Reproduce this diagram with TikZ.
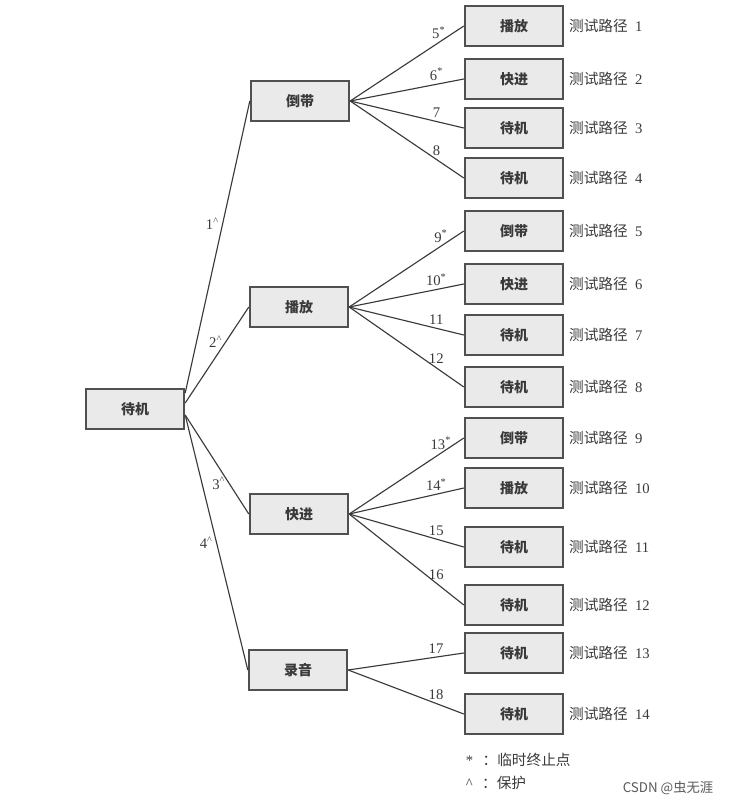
\documentclass[tikz,border=0pt]{standalone}
\usepackage{fontspec}
\setmainfont{Liberation Serif}
\newfontfamily\cjk{Noto Sans CJK SC}
\definecolor{boxfill}{HTML}{EAEAEA}
\definecolor{boxline}{HTML}{505050}
\definecolor{ink}{HTML}{3A3A3A}
\newcommand{\lujing}[1]{{\cjk 测试路径}\enspace #1}

\begin{document}
\begin{tikzpicture}[x=0.75pt,y=-0.75pt,
    box/.style={draw=boxline,fill=boxfill,line width=1.3pt,minimum width=74pt,minimum height=30pt,inner sep=0pt,
        font=\fontsize{10.5}{12}\selectfont\cjk\bfseries,text=ink,label distance=0.5pt},
    plab/.style={font=\fontsize{11}{13}\selectfont\rmfamily\mdseries,text=ink,inner sep=3.5pt},
    conn/.style={draw=ink,line width=0.85pt},
    num/.style={font=\fontsize{11}{13}\selectfont,text=ink,inner sep=2.5pt}]
    \useasboundingbox (0,0) rectangle (744,804);
    % root and first level
    \node[box] (dj) at (135,409) {待机};
    \node[box] (dd) at (300,101) {倒带};
    \node[box] (bf) at (299,307) {播放};
    \node[box] (kj) at (299,514) {快进};
    \node[box] (ly) at (298,670) {录音};
    % leaves
    \node[box,label={[plab]right:\lujing{1}}] (p1) at (514,26) {播放};
    \node[box,label={[plab]right:\lujing{2}}] (p2) at (514,79) {快进};
    \node[box,label={[plab]right:\lujing{3}}] (p3) at (514,128) {待机};
    \node[box,label={[plab]right:\lujing{4}}] (p4) at (514,178) {待机};
    \node[box,label={[plab]right:\lujing{5}}] (p5) at (514,231) {倒带};
    \node[box,label={[plab]right:\lujing{6}}] (p6) at (514,284) {快进};
    \node[box,label={[plab]right:\lujing{7}}] (p7) at (514,335) {待机};
    \node[box,label={[plab]right:\lujing{8}}] (p8) at (514,387) {待机};
    \node[box,label={[plab]right:\lujing{9}}] (p9) at (514,438) {倒带};
    \node[box,label={[plab]right:\lujing{10}}] (p10) at (514,488) {播放};
    \node[box,label={[plab]right:\lujing{11}}] (p11) at (514,547) {待机};
    \node[box,label={[plab]right:\lujing{12}}] (p12) at (514,605) {待机};
    \node[box,label={[plab]right:\lujing{13}}] (p13) at (514,653) {待机};
    \node[box,label={[plab]right:\lujing{14}}] (p14) at (514,714) {待机};
    % connectors from the root
    \coordinate (o1) at ([yshift=12pt]dj.east);
    \coordinate (o2) at ([yshift=4.5pt]dj.east);
    \coordinate (o3) at ([yshift=-4.5pt]dj.east);
    \draw[conn] (o1) -- node[num,left,pos=0.58]{1\textsuperscript{\textasciicircum}} (dd.west);
    \draw[conn] (o2) -- node[num,left,pos=0.64]{2\textsuperscript{\textasciicircum}} (bf.west);
    \draw[conn] (o3) -- node[num,left,pos=0.69]{3\textsuperscript{\textasciicircum}} (kj.west);
    \draw[conn] (o3) -- node[num,left,pos=0.5]{4\textsuperscript{\textasciicircum}} (ly.west);
    % second level
    \draw[conn] (dd.east) -- node[num,above,pos=0.78]{5\textsuperscript{*}} (p1.west);
    \draw[conn] (dd.east) -- node[num,above,pos=0.76]{6\textsuperscript{*}} (p2.west);
    \draw[conn] (dd.east) -- node[num,above,pos=0.76]{7} (p3.west);
    \draw[conn] (dd.east) -- node[num,above,pos=0.76]{8} (p4.west);
    \draw[conn] (bf.east) -- node[num,above,pos=0.8]{9\textsuperscript{*}} (p5.west);
    \draw[conn] (bf.east) -- node[num,above,pos=0.76]{10\textsuperscript{*}} (p6.west);
    \draw[conn] (bf.east) -- node[num,above,pos=0.76]{11} (p7.west);
    \draw[conn] (bf.east) -- node[num,above,pos=0.76]{12} (p8.west);
    \draw[conn] (kj.east) -- node[num,above,pos=0.8]{13\textsuperscript{*}} (p9.west);
    \draw[conn] (kj.east) -- node[num,above,pos=0.76]{14\textsuperscript{*}} (p10.west);
    \draw[conn] (kj.east) -- node[num,above,pos=0.76]{15} (p11.west);
    \draw[conn] (kj.east) -- node[num,above,pos=0.76]{16} (p12.west);
    \draw[conn] (ly.east) -- node[num,above,pos=0.76]{17} (p13.west);
    \draw[conn] (ly.east) -- node[num,above,pos=0.76]{18} (p14.west);
    % legend
    \node[plab,anchor=west] (lg1) at (461,760) {*\hspace{7pt}{\cjk ：临时终止点}};
    \node[plab,anchor=west] (lg2) at (461,783) {\textasciicircum\hspace{7pt}{\cjk ：保护}};
    \node[anchor=east,font=\fontsize{10}{12}\selectfont\cjk,text=black!65] (wm) at (718,788) {CSDN @虫无涯};
\end{tikzpicture}
\end{document}
